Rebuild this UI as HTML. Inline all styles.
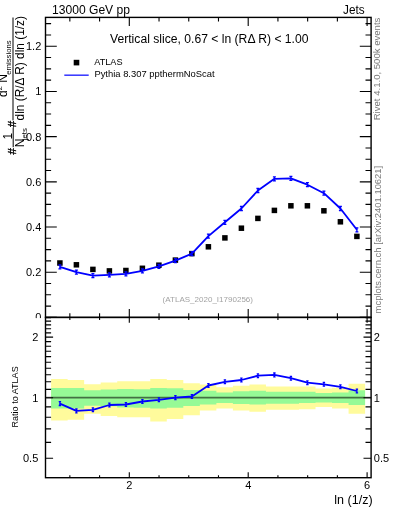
<!DOCTYPE html><html><head><meta charset="utf-8"><style>html,body{margin:0;padding:0;background:#fff;}svg{display:block;will-change:transform;}text{font-family:"Liberation Sans",sans-serif;}</style></head><body>
<svg width="393" height="512" viewBox="0 0 393 512">
<rect width="393" height="512" fill="#fff"/>
<path d="M51.10 379.10H67.63V380.10H84.15V384.20H100.68V382.40H117.21V381.20H133.73V381.20H150.26V379.10H166.78V380.10H183.31V383.20H199.84V384.60H216.36V387.30H232.89V385.80H249.42V384.60H265.94V386.50H282.47V386.50H298.99V386.60H315.52V388.40H332.05V387.70H348.57V383.70H365.10V413.80H348.57V408.60H332.05V407.10H315.52V409.20H298.99V409.80H282.47V409.80H265.94V411.80H249.42V410.60H232.89V408.60H216.36V410.60H199.84V415.30H183.31V419.00H166.78V421.40H150.26V417.30H133.73V417.30H117.21V415.90H100.68V413.80H84.15V419.80H67.63V420.40H51.10Z" fill="#fffb9c"/>
<path d="M51.10 387.90H67.63V387.90H84.15V390.30H100.68V389.60H117.21V389.00H133.73V389.30H150.26V387.90H166.78V388.30H183.31V390.10H199.84V390.70H216.36V392.40H232.89V391.30H249.42V390.70H265.94V391.80H282.47V391.80H298.99V391.70H315.52V393.00H332.05V392.60H348.57V390.20H365.10V405.10H348.57V403.00H332.05V402.40H315.52V403.00H298.99V403.70H282.47V403.70H265.94V404.50H249.42V404.10H232.89V403.00H216.36V404.50H199.84V406.10H183.31V407.70H166.78V408.60H150.26V407.70H133.73V407.50H117.21V406.30H100.68V405.70H84.15V408.60H67.63V408.60H51.10Z" fill="#96fa96"/>
<line x1="45.5" y1="397.70" x2="371.1" y2="397.70" stroke="#000" stroke-opacity="0.55" stroke-width="1.7"/>
<rect x="57.15" y="260.25" width="5.5" height="5.5" fill="#000"/>
<rect x="73.65" y="262.05" width="5.5" height="5.5" fill="#000"/>
<rect x="90.15" y="266.65" width="5.5" height="5.5" fill="#000"/>
<rect x="106.65" y="268.15" width="5.5" height="5.5" fill="#000"/>
<rect x="123.15" y="267.75" width="5.5" height="5.5" fill="#000"/>
<rect x="139.65" y="265.55" width="5.5" height="5.5" fill="#000"/>
<rect x="156.15" y="262.45" width="5.5" height="5.5" fill="#000"/>
<rect x="172.65" y="257.35" width="5.5" height="5.5" fill="#000"/>
<rect x="189.15" y="250.85" width="5.5" height="5.5" fill="#000"/>
<rect x="205.65" y="244.05" width="5.5" height="5.5" fill="#000"/>
<rect x="222.15" y="235.15" width="5.5" height="5.5" fill="#000"/>
<rect x="238.65" y="225.45" width="5.5" height="5.5" fill="#000"/>
<rect x="255.15" y="215.65" width="5.5" height="5.5" fill="#000"/>
<rect x="271.65" y="207.65" width="5.5" height="5.5" fill="#000"/>
<rect x="288.15" y="203.05" width="5.5" height="5.5" fill="#000"/>
<rect x="304.65" y="203.05" width="5.5" height="5.5" fill="#000"/>
<rect x="321.15" y="208.05" width="5.5" height="5.5" fill="#000"/>
<rect x="337.65" y="219.05" width="5.5" height="5.5" fill="#000"/>
<rect x="354.15" y="233.65" width="5.5" height="5.5" fill="#000"/>
<polyline points="59.90,266.80 76.40,272.10 92.90,275.70 109.40,274.80 125.90,273.90 142.40,270.90 158.90,266.40 175.40,260.70 191.90,253.60 208.40,236.10 224.90,222.30 241.40,208.50 257.90,190.50 274.40,178.80 290.90,178.30 307.40,184.70 323.90,193.20 340.40,208.50 356.90,229.80" fill="none" stroke="#0000ff" stroke-width="1.8" stroke-linejoin="round"/>
<path d="M59.90 264.40V269.20M58.40 264.80H61.40M58.40 268.80H61.40M76.40 269.70V274.50M74.90 270.10H77.90M74.90 274.10H77.90M92.90 273.30V278.10M91.40 273.70H94.40M91.40 277.70H94.40M109.40 272.40V277.20M107.90 272.80H110.90M107.90 276.80H110.90M125.90 271.50V276.30M124.40 271.90H127.40M124.40 275.90H127.40M142.40 268.50V273.30M140.90 268.90H143.90M140.90 272.90H143.90M158.90 264.00V268.80M157.40 264.40H160.40M157.40 268.40H160.40M175.40 258.30V263.10M173.90 258.70H176.90M173.90 262.70H176.90M191.90 251.20V256.00M190.40 251.60H193.40M190.40 255.60H193.40M208.40 233.70V238.50M206.90 234.10H209.90M206.90 238.10H209.90M224.90 219.90V224.70M223.40 220.30H226.40M223.40 224.30H226.40M241.40 206.10V210.90M239.90 206.50H242.90M239.90 210.50H242.90M257.90 188.10V192.90M256.40 188.50H259.40M256.40 192.50H259.40M274.40 176.40V181.20M272.90 176.80H275.90M272.90 180.80H275.90M290.90 175.90V180.70M289.40 176.30H292.40M289.40 180.30H292.40M307.40 182.30V187.10M305.90 182.70H308.90M305.90 186.70H308.90M323.90 190.80V195.60M322.40 191.20H325.40M322.40 195.20H325.40M340.40 206.10V210.90M338.90 206.50H341.90M338.90 210.50H341.90M356.90 227.40V232.20M355.40 227.80H358.40M355.40 231.80H358.40" stroke="#0000ff" stroke-width="1.3" fill="none"/>
<polyline points="59.90,403.60 76.40,410.90 92.90,409.80 109.40,405.00 125.90,404.50 142.40,401.50 158.90,399.80 175.40,397.60 191.90,396.50 208.40,385.50 224.90,381.80 241.40,380.00 257.90,375.70 274.40,374.90 290.90,378.20 307.40,382.70 323.90,384.30 340.40,386.80 356.90,391.00" fill="none" stroke="#0000ff" stroke-width="1.8" stroke-linejoin="round"/>
<path d="M59.90 401.40V405.80M58.70 401.70H61.10M58.70 405.50H61.10M76.40 408.70V413.10M75.20 409.00H77.60M75.20 412.80H77.60M92.90 407.60V412.00M91.70 407.90H94.10M91.70 411.70H94.10M109.40 402.80V407.20M108.20 403.10H110.60M108.20 406.90H110.60M125.90 402.30V406.70M124.70 402.60H127.10M124.70 406.40H127.10M142.40 399.30V403.70M141.20 399.60H143.60M141.20 403.40H143.60M158.90 397.60V402.00M157.70 397.90H160.10M157.70 401.70H160.10M175.40 395.40V399.80M174.20 395.70H176.60M174.20 399.50H176.60M191.90 394.30V398.70M190.70 394.60H193.10M190.70 398.40H193.10M208.40 383.30V387.70M207.20 383.60H209.60M207.20 387.40H209.60M224.90 379.60V384.00M223.70 379.90H226.10M223.70 383.70H226.10M241.40 377.80V382.20M240.20 378.10H242.60M240.20 381.90H242.60M257.90 373.50V377.90M256.70 373.80H259.10M256.70 377.60H259.10M274.40 372.70V377.10M273.20 373.00H275.60M273.20 376.80H275.60M290.90 376.00V380.40M289.70 376.30H292.10M289.70 380.10H292.10M307.40 380.50V384.90M306.20 380.80H308.60M306.20 384.60H308.60M323.90 382.10V386.50M322.70 382.40H325.10M322.70 386.20H325.10M340.40 384.60V389.00M339.20 384.90H341.60M339.20 388.70H341.60M356.90 388.80V393.20M355.70 389.10H358.10M355.70 392.90H358.10" stroke="#0000ff" stroke-width="1.3" fill="none"/>
<rect x="45.5" y="17.4" width="325.60" height="300.00" fill="none" stroke="#000" stroke-width="1.4"/>
<rect x="45.5" y="317.4" width="325.60" height="160.30" fill="none" stroke="#000" stroke-width="1.4"/>
<path d="M69.85 17.40L69.85 21.60M69.85 317.40L69.85 313.20M69.85 317.40L69.85 319.90M69.85 477.70L69.85 475.20M99.58 17.40L99.58 21.60M99.58 317.40L99.58 313.20M99.58 317.40L99.58 319.90M99.58 477.70L99.58 475.20M129.30 17.40L129.30 25.90M129.30 317.40L129.30 308.90M129.30 317.40L129.30 322.80M129.30 477.70L129.30 472.30M159.03 17.40L159.03 21.60M159.03 317.40L159.03 313.20M159.03 317.40L159.03 319.90M159.03 477.70L159.03 475.20M188.75 17.40L188.75 21.60M188.75 317.40L188.75 313.20M188.75 317.40L188.75 319.90M188.75 477.70L188.75 475.20M218.48 17.40L218.48 21.60M218.48 317.40L218.48 313.20M218.48 317.40L218.48 319.90M218.48 477.70L218.48 475.20M248.20 17.40L248.20 25.90M248.20 317.40L248.20 308.90M248.20 317.40L248.20 322.80M248.20 477.70L248.20 472.30M277.93 17.40L277.93 21.60M277.93 317.40L277.93 313.20M277.93 317.40L277.93 319.90M277.93 477.70L277.93 475.20M307.65 17.40L307.65 21.60M307.65 317.40L307.65 313.20M307.65 317.40L307.65 319.90M307.65 477.70L307.65 475.20M337.38 17.40L337.38 21.60M337.38 317.40L337.38 313.20M337.38 317.40L337.38 319.90M337.38 477.70L337.38 475.20M367.10 17.40L367.10 25.90M367.10 317.40L367.10 308.90M367.10 317.40L367.10 322.80M367.10 477.70L367.10 472.30M45.50 317.40L56.80 317.40M371.10 317.40L359.80 317.40M45.50 306.10L51.10 306.10M371.10 306.10L365.50 306.10M45.50 294.80L51.10 294.80M371.10 294.80L365.50 294.80M45.50 283.51L51.10 283.51M371.10 283.51L365.50 283.51M45.50 272.21L56.80 272.21M371.10 272.21L359.80 272.21M45.50 260.91L51.10 260.91M371.10 260.91L365.50 260.91M45.50 249.61L51.10 249.61M371.10 249.61L365.50 249.61M45.50 238.32L51.10 238.32M371.10 238.32L365.50 238.32M45.50 227.02L56.80 227.02M371.10 227.02L359.80 227.02M45.50 215.72L51.10 215.72M371.10 215.72L365.50 215.72M45.50 204.42L51.10 204.42M371.10 204.42L365.50 204.42M45.50 193.13L51.10 193.13M371.10 193.13L365.50 193.13M45.50 181.83L56.80 181.83M371.10 181.83L359.80 181.83M45.50 170.53L51.10 170.53M371.10 170.53L365.50 170.53M45.50 159.23L51.10 159.23M371.10 159.23L365.50 159.23M45.50 147.94L51.10 147.94M371.10 147.94L365.50 147.94M45.50 136.64L56.80 136.64M371.10 136.64L359.80 136.64M45.50 125.34L51.10 125.34M371.10 125.34L365.50 125.34M45.50 114.04L51.10 114.04M371.10 114.04L365.50 114.04M45.50 102.75L51.10 102.75M371.10 102.75L365.50 102.75M45.50 91.45L56.80 91.45M371.10 91.45L359.80 91.45M45.50 80.15L51.10 80.15M371.10 80.15L365.50 80.15M45.50 68.85L51.10 68.85M371.10 68.85L365.50 68.85M45.50 57.56L51.10 57.56M371.10 57.56L365.50 57.56M45.50 46.26L56.80 46.26M371.10 46.26L359.80 46.26M45.50 34.96L51.10 34.96M371.10 34.96L365.50 34.96M45.50 23.66L51.10 23.66M371.10 23.66L365.50 23.66M45.50 458.30L53.10 458.30M371.10 458.30L363.50 458.30M45.50 442.36L51.10 442.36M371.10 442.36L365.50 442.36M45.50 428.88L51.10 428.88M371.10 428.88L365.50 428.88M45.50 417.21L51.10 417.21M371.10 417.21L365.50 417.21M45.50 406.91L51.10 406.91M371.10 406.91L365.50 406.91M45.50 397.70L53.10 397.70M371.10 397.70L363.50 397.70M45.50 389.37L51.10 389.37M371.10 389.37L365.50 389.37M45.50 381.76L51.10 381.76M371.10 381.76L365.50 381.76M45.50 374.76L51.10 374.76M371.10 374.76L365.50 374.76M45.50 368.28L51.10 368.28M371.10 368.28L365.50 368.28M45.50 362.25L51.10 362.25M371.10 362.25L365.50 362.25M45.50 356.61L51.10 356.61M371.10 356.61L365.50 356.61M45.50 351.31L51.10 351.31M371.10 351.31L365.50 351.31M45.50 346.31L51.10 346.31M371.10 346.31L365.50 346.31M45.50 341.58L51.10 341.58M371.10 341.58L365.50 341.58M45.50 337.10L53.10 337.10M371.10 337.10L363.50 337.10M45.50 332.83L51.10 332.83M371.10 332.83L365.50 332.83M45.50 328.77L51.10 328.77M371.10 328.77L365.50 328.77M45.50 324.88L51.10 324.88M371.10 324.88L365.50 324.88M45.50 321.16L51.10 321.16M371.10 321.16L365.50 321.16M45.50 317.59L51.10 317.59M371.10 317.59L365.50 317.59" stroke="#000" stroke-width="1.1" fill="none"/>
<text x="52.0" y="13.6" font-size="12" fill="#000" textLength="78" lengthAdjust="spacingAndGlyphs">13000 GeV pp</text>
<text x="343.0" y="14.2" font-size="12" fill="#000" textLength="21.6" lengthAdjust="spacingAndGlyphs">Jets</text>
<text x="110.0" y="43.0" font-size="12" fill="#000" textLength="198.5" lengthAdjust="spacingAndGlyphs">Vertical slice, 0.67 &lt; ln (RΔ R) &lt; 1.00</text>
<rect x="73.7" y="59.8" width="5.6" height="5.6" fill="#000"/>
<text x="94.2" y="64.9" font-size="9.2" fill="#000" textLength="28.4" lengthAdjust="spacingAndGlyphs">ATLAS</text>
<line x1="64.3" y1="75.2" x2="88.7" y2="75.2" stroke="#3333ff" stroke-width="1.5"/>
<text x="94.4" y="77.4" font-size="9.2" fill="#000" textLength="120.2" lengthAdjust="spacingAndGlyphs">Pythia 8.307 ppthermNoScat</text>
<text x="162.6" y="301.5" font-size="7.3" fill="#a3a3a3" textLength="90.4" lengthAdjust="spacingAndGlyphs">(ATLAS_2020_I1790256)</text>
<text x="41.3" y="50.25999999999999" font-size="11" fill="#000" text-anchor="end">1.2</text>
<text x="41.3" y="95.44999999999999" font-size="11" fill="#000" text-anchor="end">1</text>
<text x="41.3" y="140.64" font-size="11" fill="#000" text-anchor="end">0.8</text>
<text x="41.3" y="185.82999999999998" font-size="11" fill="#000" text-anchor="end">0.6</text>
<text x="41.3" y="231.01999999999998" font-size="11" fill="#000" text-anchor="end">0.4</text>
<text x="41.3" y="276.21" font-size="11" fill="#000" text-anchor="end">0.2</text>
<text x="41.3" y="321.4" font-size="11" fill="#000" text-anchor="end">0</text>
<rect x="20" y="318.1" width="24" height="8" fill="#fff"/>
<text x="38.3" y="341.09999999999997" font-size="11" fill="#000" text-anchor="end">2</text>
<text x="373.8" y="341.09999999999997" font-size="11" fill="#000">2</text>
<text x="38.3" y="401.7" font-size="11" fill="#000" text-anchor="end">1</text>
<text x="373.8" y="401.7" font-size="11" fill="#000">1</text>
<text x="38.3" y="462.3" font-size="11" fill="#000" text-anchor="end">0.5</text>
<text x="373.8" y="462.3" font-size="11" fill="#000">0.5</text>
<text x="129.3" y="488.5" font-size="11" fill="#000" text-anchor="middle">2</text>
<text x="248.2" y="488.5" font-size="11" fill="#000" text-anchor="middle">4</text>
<text x="367.1" y="488.5" font-size="11" fill="#000" text-anchor="middle">6</text>
<text x="334.3" y="504.2" font-size="12.5" fill="#000" textLength="38.3" lengthAdjust="spacingAndGlyphs">ln (1/z)</text>
<g transform="translate(379.9,120.3) rotate(-90)"><text x="0" y="0" font-size="9.4" fill="#7a7a7a" textLength="102.7" lengthAdjust="spacingAndGlyphs">Rivet 4.1.0, 500k events</text></g>
<g transform="translate(381.0,313.4) rotate(-90)"><text x="0" y="0" font-size="9.4" fill="#7a7a7a" textLength="147.6" lengthAdjust="spacingAndGlyphs">mcplots.cern.ch [arXiv:2401.10621]</text></g>
<g transform="translate(18.4,427.5) rotate(-90)"><text x="0" y="0" font-size="9" fill="#000" textLength="61.2" lengthAdjust="spacingAndGlyphs">Ratio to ATLAS</text></g>
<g transform="translate(0,0)">
<line x1="13" y1="17.5" x2="13" y2="120.4" stroke="#000" stroke-width="1"/>
<g transform="translate(23.7,120.4) rotate(-90)"><text x="0" y="0" font-size="12" textLength="104.4" lengthAdjust="spacingAndGlyphs">dln (R/Δ R) dln (1/z)</text></g>
<g transform="translate(7.1,97.1) rotate(-90)"><text x="0" y="0" font-size="12">d<tspan font-size="8" dy="-5">2</tspan><tspan dy="5"> N</tspan></text></g>
<g transform="translate(10.8,74.7) rotate(-90)"><text x="0" y="0" font-size="7.7" textLength="34.3" lengthAdjust="spacingAndGlyphs">emissions</text></g>
<g transform="translate(16.2,127.2) rotate(-90)"><text x="0" y="0" font-size="11.5" stroke="#000" stroke-width="0.35">#</text></g>
<g transform="translate(16.2,154.5) rotate(-90)"><text x="0" y="0" font-size="11.5" stroke="#000" stroke-width="0.35">#</text></g>
<line x1="13.2" y1="127.6" x2="13.2" y2="147.2" stroke="#000" stroke-width="1"/>
<g transform="translate(12.2,139.6) rotate(-90)"><text x="0" y="0" font-size="12">1</text></g>
<g transform="translate(24.0,147.2) rotate(-90)"><text x="0" y="0" font-size="12">N</text></g>
<g transform="translate(27.2,140.3) rotate(-90)"><text x="0" y="0" font-size="7.7" textLength="12.2" lengthAdjust="spacingAndGlyphs">jets</text></g>
</g>
</svg></body></html>
